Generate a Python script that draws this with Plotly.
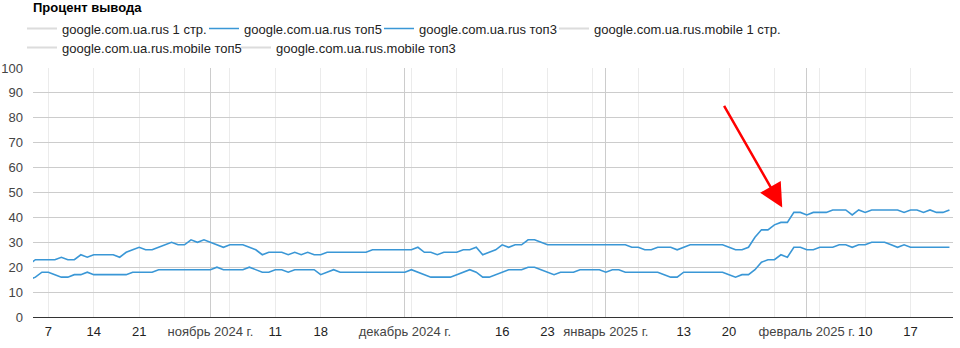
import plotly.graph_objects as go
import pandas as pd

# ---------------- data ----------------
chart_title = "Процент вывода"
start_date = "2024-10-04"
end_date = "2025-02-23"

# google.com.ua.rus топ5 (daily, Oct 4 2024 .. Feb 23 2025)
top5_oct = [21, 23, 23, 23, 23, 24, 23, 23, 25, 24, 25, 25, 25, 25, 24, 26, 27, 28, 27, 27, 28, 29, 30, 29, 29, 31, 30, 31]
top5_nov = [30, 29, 28, 29, 29, 29, 28, 27, 25, 26, 26, 26, 25, 26, 25, 26, 25, 25, 26, 26, 26, 26, 26, 26, 26, 27, 27, 27, 27, 27]
top5_dec = [27, 27, 28, 26, 26, 25, 26, 26, 26, 27, 27, 28, 25, 26, 27, 29, 28, 29, 29, 31, 31, 30, 29, 29, 29, 29, 29, 29, 29, 29, 29]
top5_jan = [29, 29, 29, 29, 28, 28, 27, 27, 28, 28, 28, 27, 28, 29, 29, 29, 29, 29, 29, 28, 27, 27, 28, 32, 35, 35, 37, 38, 38, 42, 42]
top5_feb = [41, 42, 42, 42, 43, 43, 43, 41, 43, 42, 43, 43, 43, 43, 43, 42, 43, 43, 42, 43, 42, 42, 43]

# google.com.ua.rus топ3
top3_oct = [15, 16, 18, 18, 17, 16, 16, 17, 17, 18, 17, 17, 17, 17, 17, 17, 18, 18, 18, 18, 19, 19, 19, 19, 19, 19, 19, 19]
top3_nov = [19, 20, 19, 19, 19, 19, 20, 19, 18, 18, 19, 19, 18, 19, 19, 19, 19, 17, 18, 19, 18, 18, 18, 18, 18, 18, 18, 18, 18, 18]
top3_dec = [18, 19, 18, 17, 16, 16, 16, 16, 17, 18, 19, 18, 16, 16, 17, 18, 19, 19, 19, 20, 20, 19, 18, 17, 18, 18, 18, 19, 19, 19, 19]
top3_jan = [18, 19, 19, 18, 18, 18, 18, 18, 18, 17, 16, 16, 18, 18, 18, 18, 18, 18, 18, 17, 16, 17, 17, 19, 22, 23, 23, 25, 24, 28, 28]
top3_feb = [27, 27, 28, 28, 28, 29, 29, 28, 29, 29, 30, 30, 30, 29, 28, 29, 28, 28, 28, 28, 28, 28, 28]

series_top5 = top5_oct + top5_nov + top5_dec + top5_jan + top5_feb
series_top3 = top3_oct + top3_nov + top3_dec + top3_jan + top3_feb

series_names = ["google.com.ua.rus 1 стр.", "google.com.ua.rus топ5", "google.com.ua.rus топ3",
                "google.com.ua.rus.mobile 1 стр.", "google.com.ua.rus.mobile топ5",
                "google.com.ua.rus.mobile топ3"]

# x axis labels
tick_dates = ["2024-10-07", "2024-10-14", "2024-10-21", "2024-11-01", "2024-11-11", "2024-11-18",
              "2024-12-01", "2024-12-16", "2024-12-23", "2025-01-01", "2025-01-13", "2025-01-20",
              "2025-02-01", "2025-02-10", "2025-02-17"]
tick_labels = ["7", "14", "21", "ноябрь 2024 г.", "11", "18",
               "декабрь 2024 г.", "16", "23", "январь 2025 г.", "13", "20",
               "февраль 2025 г.", "10", "17"]
month_dates = ["2024-11-01", "2024-12-01", "2025-01-01", "2025-02-01"]
y_ticks = [0, 10, 20, 30, 40, 50, 60, 70, 80, 90, 100]

# ---------------- figure ----------------
dates = pd.date_range(start_date, end_date, freq="D")
empty = [None] * len(dates)

BLUE = "#3a97d6"
GRAY = "#dcdcdc"
x_range = ["2024-10-04 15:00", "2025-02-23 13:10"]

series_values = [empty, series_top5, series_top3, empty, empty, empty]
series_colors = [GRAY, BLUE, BLUE, GRAY, GRAY, GRAY]
# legend layout (pixel origin of each legend entry, like the source's wrapped legend)
legend_x = [22, 204, 379, 554, 22, 236]
legend_y = [13.5, 13.5, 13.5, 13.5, 32.5, 32.5]


def fmt_label(t):
    if t.isdigit():
        return t
    return '<span style="color:#444444">' + t + '</span>'


fig = go.Figure()
legend_layouts = {}
for i, (nm, vals, col) in enumerate(zip(series_names, series_values, series_colors)):
    lg = "legend" if i == 0 else "legend%d" % (i + 1)
    is_data = any(v is not None for v in vals)
    fig.add_trace(go.Scatter(x=dates, y=vals, name=nm, mode="lines",
                             xaxis="x" if is_data else "x2",
                             line=dict(color=col, width=1.6 if is_data else 2),
                             legend=lg))
    legend_layouts[lg] = dict(orientation="h", xref="container", x=legend_x[i] / 960,
                              xanchor="left", yref="container", y=1 - legend_y[i] / 348,
                              yanchor="top", itemwidth=30,
                              font=dict(size=13, color="#222222"),
                              bgcolor="rgba(0,0,0,0)", borderwidth=0, itemclick=False,
                              itemdoubleclick=False)

fig.update_layout(
    width=960, height=348,
    margin=dict(l=33, r=7, t=68, b=31, autoexpand=False),
    paper_bgcolor="white", plot_bgcolor="white",
    font=dict(family="Liberation Sans, Arial, sans-serif", size=13, color="#222222"),
    title=dict(text="<b>" + chart_title + "</b>", xref="container", x=33 / 960, xanchor="left",
               yref="container", y=1 - 7.5 / 348, yanchor="middle",
               font=dict(size=13, color="#000000")),
    showlegend=True,
    xaxis=dict(type="date", range=x_range, tickmode="array", tickvals=tick_dates,
               ticktext=[fmt_label(t) for t in tick_labels], showgrid=False,
               minor=dict(tick0="2024-10-07", dtick=7 * 86400000, showgrid=True,
                          gridcolor="#ebebeb", gridwidth=1, ticks=""),
               showline=True, linecolor="#333333", linewidth=1, ticks="",
               ticklabelstandoff=2, tickangle=0, tickfont=dict(size=13, color="#222222"),
               zeroline=False, automargin=False, fixedrange=True),
    xaxis2=dict(type="date", overlaying="x", range=x_range, tickmode="array",
                tickvals=month_dates, showticklabels=False, showgrid=True,
                gridcolor="#cccccc", gridwidth=1, ticks="", showline=False,
                zeroline=False, automargin=False, fixedrange=True),
    yaxis=dict(range=[0, 100], tickmode="array", tickvals=y_ticks, showgrid=True,
               gridcolor="#cccccc", gridwidth=1, zeroline=False, showline=False, ticks="",
               ticklabelstandoff=9, tickfont=dict(size=13, color="#444444"),
               automargin=False, fixedrange=True),
    hovermode=False,
    **legend_layouts,
)

# red arrow pointing at the jump
fig.add_annotation(x="2025-01-28 05:00", y=44, xref="x", yref="y", ax=-59, ay=-103,
                   showarrow=True, arrowhead=2, arrowsize=1.9, arrowwidth=2.5,
                   arrowcolor="#ff0000", text="", standoff=0)

fig.write_html("out.html")
